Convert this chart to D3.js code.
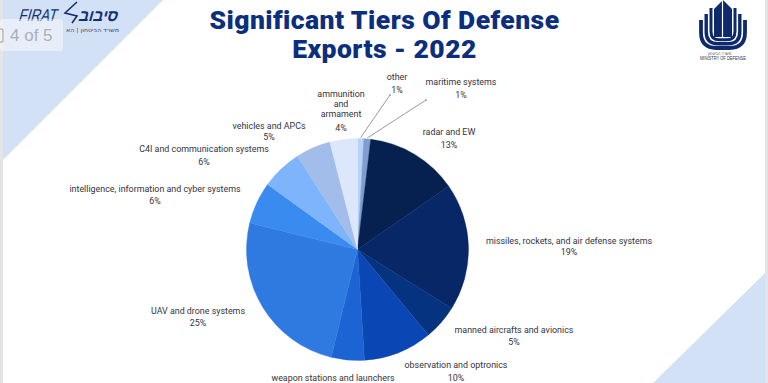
<!DOCTYPE html>
<html><head><meta charset="utf-8">
<script src="https://cdnjs.cloudflare.com/ajax/libs/d3/7.8.5/d3.min.js"></script>
<style>html,body{margin:0;padding:0;background:#fff;overflow:hidden}svg{display:block}</style>
</head><body><svg id="c" width="768" height="383"></svg>
<script>
const categories=["other","maritime systems","radar and EW","missiles, rockets, and air defense systems","manned aircrafts and avionics","observation and optronics","weapon stations and launchers","UAV and drone systems","intelligence, information and cyber systems","C4I and communication systems","vehicles and APCs","ammunition and armament"];
const values=[0.9,1.0,13.4,18.5,5.1,10,4.8,25,6.1,5.9,5.1,4.0];
const percentLabels=["1%","1%","13%","19%","5%","10%","5%","25%","6%","6%","5%","4%"];
const colors=["#b7d3f8","#7f9ecf","#06204f","#072766","#06337f","#0a47b5","#1c64d3","#2f7ae0","#3a8bf0","#7db4fb","#a3bdea","#dde7fb"];
const titleLines=["Significant Tiers Of Defense","Exports - 2022"];
const labelLines=[["other"],["maritime systems"],["radar and EW"],["missiles, rockets, and air defense systems"],["manned aircrafts and avionics"],["observation and optronics"],["weapon stations and launchers"],["UAV and drone systems"],["intelligence, information and cyber systems"],["C4I and communication systems"],["vehicles and APCs"],["ammunition","and","armament"]];
const labelX=[397,461,449,569,514,456,333,198,155,204,269,341];
const labelY=[80,84.5,134.5,243.5,332.5,367.5,380.5,313.5,191.5,151.5,128.5,97];
const pctY=[92.5,97.5,147.5,254.5,344.5,380.5,391,325.5,203.5,164.5,139.5,130.5];
const leaderEnds=[[390,95],[426,100],null,null,null,null,null,null,null,null,null,null];

const svg=d3.select("#c");
const bg="#d3e1f6";
svg.append("polygon").attr("points","3,0 163,0 3,160").attr("fill",bg);
svg.append("polygon").attr("points","766,272 766,383 653,383").attr("fill",bg);
svg.append("rect").attr("x",0).attr("y",0).attr("width",3).attr("height",383).attr("fill","#e4e4e6");
svg.append("rect").attr("x",765).attr("y",0).attr("width",3).attr("height",383).attr("fill","#e4e4e6");

// title
svg.append("g").selectAll("text").data(titleLines).join("text")
 .attr("x",384.5).attr("y",(d,i)=>28.5+i*29).attr("text-anchor","middle")
 .attr("font-family","Roboto").attr("font-weight",900).attr("font-size",26.5).attr("letter-spacing",.45).attr("fill","#0b2f7e").text(d=>d);

// pie
const cx=357.5,cy=249.5,R=111;
const pie=d3.pie().sort(null).value(d=>d)(values);
const arc=d3.arc().innerRadius(0).outerRadius(R);
const g=svg.append("g").attr("transform",`translate(${cx},${cy})`);
g.selectAll("path").data(pie).join("path").attr("d",arc).attr("fill",(d,i)=>colors[i]).attr("stroke",(d,i)=>colors[i]).attr("stroke-width",.4);

// leaders
pie.forEach((d,i)=>{ if(!leaderEnds[i])return;
 const a=(d.startAngle+d.endAngle)/2;
 svg.append("line").attr("x1",cx+Math.sin(a)*(R+1)).attr("y1",cy-Math.cos(a)*(R+1))
  .attr("x2",leaderEnds[i][0]).attr("y2",leaderEnds[i][1]).attr("stroke","#9a9a9a").attr("stroke-width",1);
 svg.append("circle").attr("cx",leaderEnds[i][0]).attr("cy",leaderEnds[i][1]).attr("r",.8).attr("fill","#777");
});

// labels
const lab=svg.append("g").attr("font-family","Roboto").attr("font-size",8.9).attr("fill","#33333d").attr("text-anchor","middle");
categories.forEach((c,i)=>{
 labelLines[i].forEach((t,k)=>lab.append("text").attr("x",labelX[i]).attr("y",labelY[i]+k*10).text(t));
 lab.append("text").attr("x",labelX[i]).attr("y",pctY[i]).text(percentLabels[i]);
});

// Firat logo
const logoInk="#12306f";
svg.append("text").attr("transform","translate(18,21) skewX(-16)").attr("font-family","Liberation Sans").attr("font-size",17).attr("fill",logoInk).attr("textLength",38).attr("lengthAdjust","spacingAndGlyphs").text("FIRAT");
svg.append("text").attr("transform","translate(78,21) skewX(-16)").attr("font-family","Liberation Sans").attr("font-weight",700).attr("font-size",16).attr("fill",logoInk).attr("textLength",39).attr("lengthAdjust","spacingAndGlyphs").text("סיבוב");
svg.append("path").attr("d","M77,2 L65,13 L77,16 L72,23").attr("fill","none").attr("stroke",logoInk).attr("stroke-width",1.6);
svg.append("text").attr("x",66).attr("y",32).attr("font-family","DejaVu Sans").attr("font-size",5.4).attr("fill","#30456f").attr("textLength",53).attr("lengthAdjust","spacingAndGlyphs").text("משרד הביטחון | הא");

// page overlay
svg.append("rect").attr("x",0).attr("y",19).attr("width",63).attr("height",32).attr("rx",3).attr("fill","#ffffff").attr("opacity",.45);
svg.append("rect").attr("x",-4).attr("y",29).attr("width",7).attr("height",13).attr("rx",1.5).attr("fill","none").attr("stroke","#b4b6ba").attr("stroke-width",1.4);
svg.append("text").attr("x",10).attr("y",41).attr("font-family","Liberation Sans").attr("font-size",17).attr("fill","#adafb3").text("4 of 5");

// Ministry logo
const navy="#0d2a6c", m=svg.append("g").attr("fill","none").attr("stroke",navy);
const shells=[{x:701,top:20,bot:48,w:3.8},{x:706.2,top:14,bot:43.8,w:3.4},{x:711,top:8,bot:39.8,w:3}];
shells.forEach(s=>{const xr=2*723-s.x,r=(723-s.x)*.7;
 m.append("path").attr("stroke-width",s.w).attr("d",`M${s.x},${s.top}V${s.bot-r}Q${s.x},${s.bot} ${s.x+r},${s.bot}H${xr-r}Q${xr},${s.bot} ${xr},${s.bot-r}V${s.top}`);});
svg.append("path").attr("d","M723,0L732,9V37H714V9Z").attr("fill",navy);
svg.append("line").attr("x1",722.5).attr("x2",722.5).attr("y1",0).attr("y2",37).attr("stroke","#fff").attr("stroke-width",1.2);
svg.append("text").attr("x",708).attr("y",55).attr("font-family","DejaVu Sans").attr("font-size",4.8).attr("fill","#30364a").attr("textLength",23).attr("lengthAdjust","spacingAndGlyphs").text("משרד הביטחון");
svg.append("text").attr("x",700).attr("y",60).attr("font-family","Liberation Sans").attr("font-size",5).attr("fill","#30364a").attr("textLength",46).attr("lengthAdjust","spacingAndGlyphs").text("MINISTRY OF DEFENSE");
</script></body></html>
